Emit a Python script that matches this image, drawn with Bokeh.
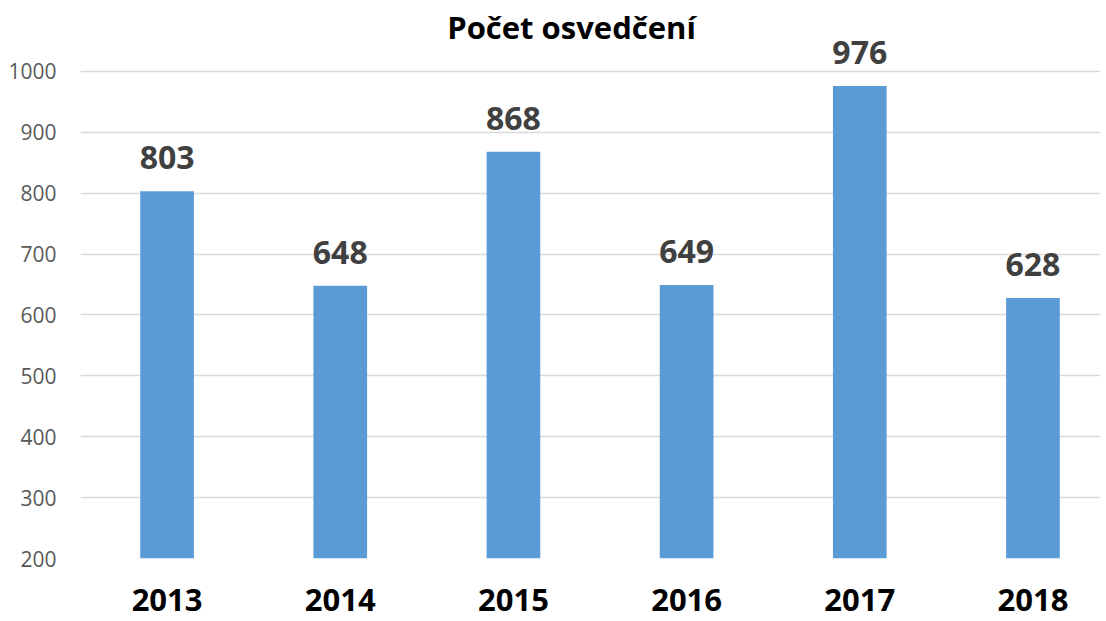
from bokeh.plotting import figure
from bokeh.models import ColumnDataSource, FixedTicker, Label, Range1d
from bokeh.core.properties import value
from bokeh.embed import file_html
from bokeh.resources import INLINE

years = ["2013", "2014", "2015", "2016", "2017", "2018"]
counts = [803, 648, 868, 649, 976, 628]
y_ticks = [200, 300, 400, 500, 600, 700, 800, 900, 1000]
title_text = "Počet osvedčení"

xs = list(range(len(years)))
src = ColumnDataSource(dict(x=xs, top=counts, lab=[str(c) for c in counts]))

W, H = 1100, 621
p = figure(width=W, height=H, output_backend="svg", toolbar_location=None,
           x_range=Range1d(-0.5, 5.39), y_range=Range1d(200, 1100),
           min_border_left=80, min_border_right=0, min_border_top=10,
           min_border_bottom=63)
p.outline_line_color = None
p.background_fill_color = "white"
p.border_fill_color = "white"

p.vbar(x="x", top="top", bottom=200, width=0.31, source=src,
       fill_color="#5B9BD5", line_color=None)
p.text(x="x", y="top", text="lab", source=src, text_align="center",
       text_baseline="bottom", y_offset=-22,
       text_font=value("Open Sans"), text_font_style="bold",
       text_font_size="32px", text_color="#404040")

p.xgrid.grid_line_color = None
p.ygrid.grid_line_color = "#D9D9D9"
p.ygrid.grid_line_width = 1.5
p.yaxis.ticker = FixedTicker(ticks=y_ticks)
p.xaxis.ticker = FixedTicker(ticks=xs)
p.xaxis.major_label_overrides = {i: y for i, y in enumerate(years)}

for ax in (p.xaxis[0], p.yaxis[0]):
    ax.axis_line_color = None
    ax.major_tick_line_color = None
    ax.minor_tick_line_color = None

p.yaxis.major_label_text_font = "Open Sans"
p.yaxis.major_label_text_font_size = "21px"
p.yaxis.major_label_text_color = "#595959"
p.yaxis.major_label_standoff = 18

p.xaxis.major_label_text_font = "Open Sans"
p.xaxis.major_label_text_font_style = "bold"
p.xaxis.major_label_text_font_size = "31px"
p.xaxis.major_label_text_color = "#000000"
p.xaxis.major_label_standoff = 24

p.add_layout(Label(x=491, y=532, x_units="screen", y_units="screen",
                   text=title_text, text_align="center", text_baseline="alphabetic",
                   text_font="Open Sans", text_font_style="bold",
                   text_font_size="31px", text_color="#000000"))

open("out.html", "w").write(file_html(p, INLINE))
